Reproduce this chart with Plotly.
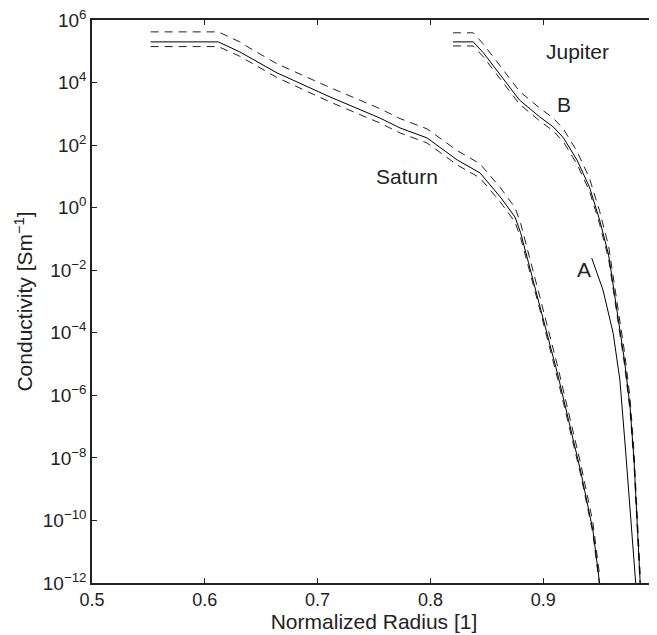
import numpy as np
import plotly.graph_objects as go

# Saturn (log10 conductivity)
sat_x = [0.552, 0.612, 0.631, 0.640, 0.664, 0.711, 0.755, 0.773, 0.797, 0.824, 0.844, 0.862, 0.875, 0.880, 0.897, 0.913, 0.933, 0.944, 0.950]
sat_mid = [5.30, 5.30, 4.98, 4.79, 4.31, 3.54, 2.87, 2.55, 2.23, 1.52, 1.11, 0.34, -0.30, -0.80, -3.10, -5.35, -8.39, -10.30, -12.0]
sat_hi = [5.62, 5.62, 5.30, 5.10, 4.60, 3.84, 3.17, 2.85, 2.52, 1.82, 1.40, 0.64, 0.00, -0.50, -2.85, -5.10, -8.15, -10.05, -11.75]
sat_lo = [5.15, 5.15, 4.84, 4.65, 4.16, 3.38, 2.71, 2.39, 2.07, 1.36, 0.95, 0.18, -0.46, -0.96, -3.25, -5.50, -8.50, -10.40, -12.10]

# Jupiter B (log10 conductivity)
jup_x = [0.820, 0.838, 0.847, 0.862, 0.879, 0.897, 0.909, 0.918, 0.930, 0.941, 0.950, 0.958, 0.966, 0.972, 0.977, 0.9805, 0.986]
jup_mid = [5.30, 5.30, 4.95, 4.24, 3.44, 2.90, 2.58, 2.23, 1.52, 0.66, -0.39, -1.51, -3.49, -4.87, -6.37, -8.07, -12.0]
jup_hi = [5.59, 5.59, 5.23, 4.52, 3.72, 3.18, 2.86, 2.51, 1.80, 0.94, -0.11, -1.23, -3.21, -4.59, -6.09, -7.79, -11.72]
jup_lo = [5.17, 5.17, 4.82, 4.11, 3.31, 2.77, 2.45, 2.10, 1.39, 0.53, -0.52, -1.64, -3.62, -5.00, -6.50, -8.20, -12.13]

# Jupiter A (log10 conductivity)
a_x = [0.943, 0.953, 0.962, 0.968, 0.973, 0.978, 0.982]
a_mid = [-1.61, -2.63, -4.01, -5.51, -7.75, -9.98, -12.0]

ytick_exp = [6, 4, 2, 0, -2, -4, -6, -8, -10, -12]
xtick_vals = [0.5, 0.6, 0.7, 0.8, 0.9, 1.0]
xtick_text = ["0.5", "0.6", "0.7", "0.8", "0.9", "1"]

labels = ["Jupiter", "B", "Saturn", "A"]
label_x = [0.930, 0.918, 0.779, 0.936]
label_y = [4.98, 3.31, 1.01, -1.99]

def p(v):
    return np.power(10.0, np.array(v, dtype=float))

fig = go.Figure()
solid = dict(color="black", width=1)
dashed = dict(color="#222222", width=1, dash="8px,6px")

for x, ys, ln in [
    (sat_x, sat_hi, dashed), (sat_x, sat_lo, dashed), (sat_x, sat_mid, solid),
    (jup_x, jup_hi, dashed), (jup_x, jup_lo, dashed), (jup_x, jup_mid, solid),
    (a_x, a_mid, solid),
]:
    fig.add_trace(go.Scatter(x=x, y=p(ys), mode="lines", line=ln,
                             showlegend=False, hoverinfo="skip", cliponaxis=True))

for t, lx, ly in zip(labels, label_x, label_y):
    fig.add_annotation(x=lx, y=ly, text=t, showarrow=False,
                       font=dict(size=21, color="#222"), xanchor="center", yanchor="middle")

def sup(e):
    s = str(e).replace("-", "\u2212")
    return "10<sup>" + s + "</sup>"

# page body keeps an 8px margin, so the figure is sized/offset to land on the reference pixels
fig.update_layout(
    width=649, height=627,
    margin=dict(l=84, r=1, t=12, b=52),
    paper_bgcolor="white", plot_bgcolor="white",
    font=dict(family="Liberation Sans, Arial, sans-serif", color="#222", size=18),
    xaxis=dict(range=[0.5, 1.0], tickvals=xtick_vals, ticktext=xtick_text,
               ticks="inside", ticklen=5, tickcolor="#222", mirror="ticks",
               showline=True, linecolor="#222", linewidth=1.5, showgrid=False, zeroline=False,
               automargin=False, ticklabeloverflow="allow",
               title=dict(text="Normalized Radius [1]", font=dict(size=21), standoff=2),
               tickfont=dict(size=18)),
    yaxis=dict(type="log", range=[-12, 6], tickvals=p(ytick_exp).tolist(),
               ticktext=[sup(e) for e in ytick_exp],
               ticks="inside", ticklen=5, tickcolor="#222", mirror="ticks",
               showline=True, linecolor="#222", linewidth=1.5, showgrid=False, zeroline=False,
               automargin=False, ticklabeloverflow="allow",
               title=dict(text="Conductivity [Sm<sup>\u22121</sup>]", font=dict(size=21), standoff=4),
               tickfont=dict(size=19)),
)

fig.write_html("out.html")
